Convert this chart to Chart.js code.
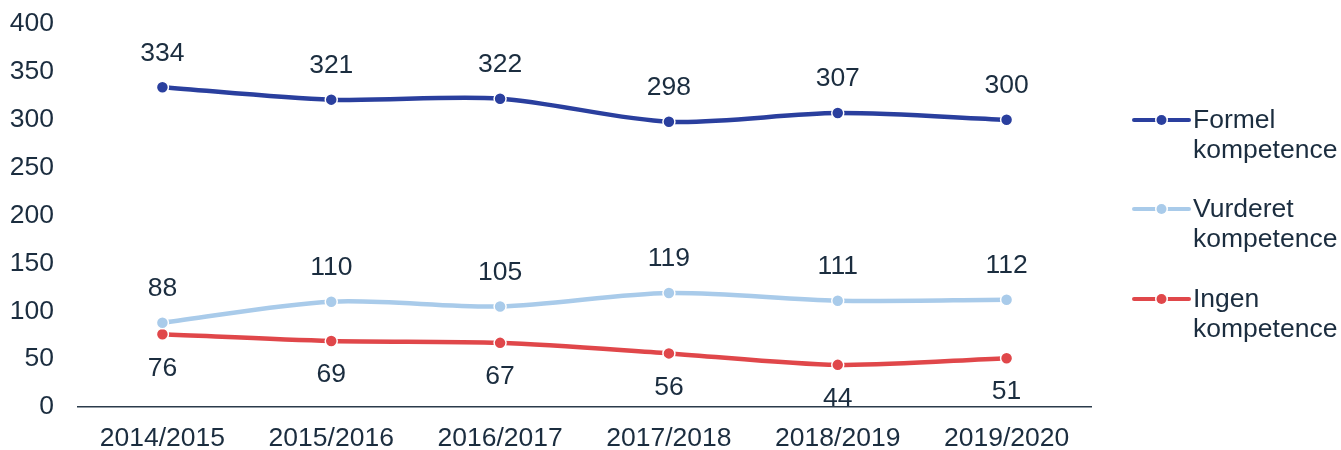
<!DOCTYPE html>
<html>
<head>
<meta charset="utf-8">
<script src="https://cdn.jsdelivr.net/npm/chart.js@4/dist/chart.umd.min.js"></script>
<style>
html,body{margin:0;padding:0;background:#fff;}
#wrap{width:1341px;height:450px;position:relative;}
</style>
</head>
<body>
<div id="wrap"><canvas id="c" width="1341" height="450"></canvas></div>
<script>
const categories = ["2014/2015","2015/2016","2016/2017","2017/2018","2018/2019","2019/2020"];
const formel = [334, 321, 322, 298, 307, 300];
const vurderet = [88, 110, 105, 119, 111, 112];
const ingen = [76, 69, 67, 56, 44, 51];
const seriesNames = [["Formel","kompetence"],["Vurderet","kompetence"],["Ingen","kompetence"]];
const labelPlacement = ["above","above","below"];

const TXT = "#1b2d3f";
const FONT = "Liberation Sans, Arial, sans-serif";
const FS = 26.5;
const colors = ["#2a3f9e", "#a9cbea", "#e0474a"];

const dataLabels = {
  id: "dataLabels",
  afterDatasetsDraw(chart) {
    const ctx = chart.ctx;
    ctx.save();
    ctx.font = FS + "px " + FONT;
    ctx.fillStyle = TXT;
    ctx.textAlign = "center";
    ctx.textBaseline = "middle";
    chart.data.datasets.forEach((ds, i) => {
      const meta = chart.getDatasetMeta(i);
      meta.data.forEach((pt, j) => {
        const off = labelPlacement[i] === "above" ? -34 : 34;
        ctx.fillText(String(ds.data[j]), pt.x, pt.y + off);
      });
    });
    ctx.restore();
  }
};

const sideLegend = {
  id: "sideLegend",
  afterDraw(chart) {
    const ctx = chart.ctx;
    ctx.save();
    const x0 = 1134, x1 = 1189, tx = 1193;
    const ys = [120, 209, 299];
    chart.data.datasets.forEach((ds, i) => {
      const y = ys[i];
      ctx.strokeStyle = ds.borderColor;
      ctx.lineWidth = 4;
      ctx.lineCap = "round";
      ctx.beginPath(); ctx.moveTo(x0, y); ctx.lineTo(x1, y); ctx.stroke();
      ctx.beginPath(); ctx.arc((x0 + x1) / 2, y, 6.5, 0, Math.PI * 2);
      ctx.fillStyle = "#fff"; ctx.fill();
      ctx.beginPath(); ctx.arc((x0 + x1) / 2, y, 5, 0, Math.PI * 2);
      ctx.fillStyle = ds.borderColor; ctx.fill();
      ctx.font = FS + "px " + FONT;
      ctx.fillStyle = TXT;
      ctx.textAlign = "left";
      ctx.textBaseline = "middle";
      seriesNames[i].forEach((line, k) => ctx.fillText(line, tx, y + 1 + k * 30));
    });
    ctx.restore();
  }
};

const mk = (data, i) => ({
  label: seriesNames[i].join(" "),
  data: data,
  borderColor: colors[i],
  backgroundColor: colors[i],
  borderWidth: 4.5,
  tension: 0.3,
  pointRadius: 6,
  pointHoverRadius: 6,
  pointBackgroundColor: colors[i],
  pointBorderColor: "#fff",
  pointBorderWidth: 1.5,
  fill: false
});

new Chart(document.getElementById("c"), {
  type: "line",
  data: {
    labels: categories,
    datasets: [mk(formel, 0), mk(vurderet, 1), mk(ingen, 2)]
  },
  options: {
    responsive: false,
    animation: false,
    devicePixelRatio: 1,
    layout: { padding: { top: 24, right: 250, left: 0, bottom: 0 } },
    plugins: { legend: { display: false }, tooltip: { enabled: false } },
    scales: {
      x: {
        offset: true,
        grid: { display: false, drawTicks: false },
        border: { display: true, color: "#2b3b4b", width: 1.5 },
        ticks: { color: TXT, font: { family: FONT, size: FS }, padding: 16, maxRotation: 0 },
        afterFit(s) { s.height = 43; s.paddingLeft = 0; s.paddingRight = 0; }
      },
      y: {
        min: 0, max: 400,
        grid: { display: false, drawTicks: false },
        border: { display: false },
        ticks: { stepSize: 50, color: TXT, font: { family: FONT, size: FS }, padding: 24 },
        afterFit(s) { s.width = 78; s.paddingTop = 0; s.paddingBottom = 0; }
      }
    }
  },
  plugins: [dataLabels, sideLegend]
});
</script>
</body>
</html>
